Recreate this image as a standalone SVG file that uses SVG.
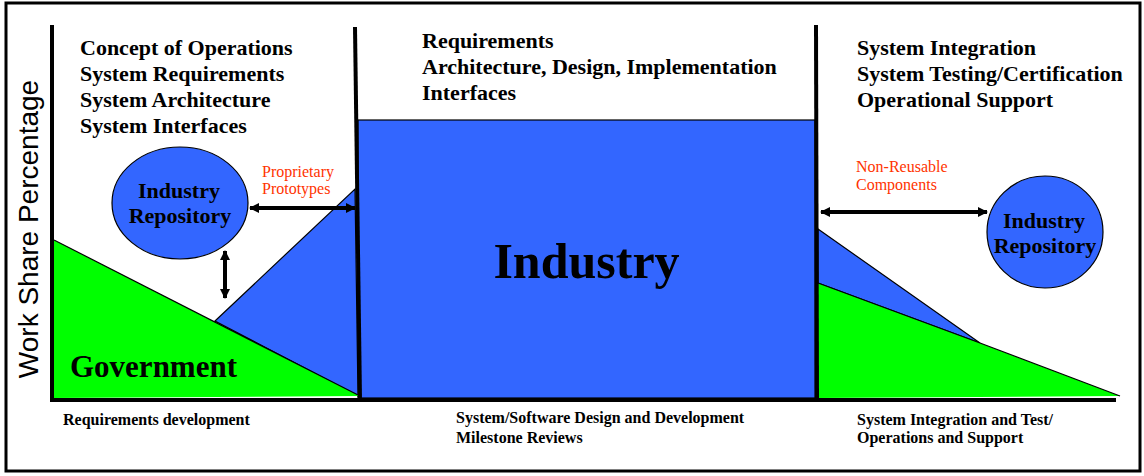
<svg xmlns="http://www.w3.org/2000/svg" width="1144" height="476" viewBox="0 0 1144 476">
<style>
.hd{font-family:"Liberation Serif","Times New Roman",serif;font-weight:bold;font-size:22px;fill:#000}
.ft{font-family:"Liberation Serif","Times New Roman",serif;font-weight:bold;font-size:16px;fill:#000}
.rd{font-family:"Liberation Serif","Times New Roman",serif;font-size:16px;fill:#ff3300}
.blue{fill:#3366ff;stroke:#000;stroke-width:1.2}
.green{fill:#00ff00;stroke:none}
.ax{stroke:#000;stroke-width:4;fill:none}
.arr{stroke:#000;stroke-width:4;fill:none;marker-start:url(#ah);marker-end:url(#ah)}
</style>
<defs>
<marker id="ah" viewBox="0 0 10 10" refX="9" refY="5" markerWidth="10" markerHeight="11" markerUnits="userSpaceOnUse" orient="auto-start-reverse">
<path d="M0,0 L10,5 L0,10 Z" fill="#000"/>
</marker>
</defs>
<rect x="0" y="0" width="1144" height="476" fill="#fff"/>
<rect x="6" y="3" width="1134" height="468" fill="none" stroke="#000" stroke-width="3"/>
<g id="axis-label">
<text transform="translate(38,229) rotate(-90)" text-anchor="middle" font-family="Liberation Sans,Arial,sans-serif" font-size="28" fill="#000">Work Share Percentage</text>
</g>
<g id="industry-area">
<rect class="blue" x="358" y="120" width="457" height="278"/>
<polygon class="blue" points="215,321 355,189 358,396"/>
<polygon class="blue" points="818,229 980,343 818,283"/>
<text x="586.5" y="278" text-anchor="middle" font-family="Liberation Serif,Times New Roman,serif" font-weight="bold" font-size="50" fill="#000">Industry</text>
</g>
<g id="government-area">
<polygon class="green" points="54,240 360,396 54,398"/>
<line x1="54" y1="240" x2="360" y2="396" stroke="#000" stroke-width="1.2"/>
<polygon class="green" points="818,283 980,343 1120,396 818,398"/>
<polyline points="818,283 980,343 1120,396" fill="none" stroke="#000" stroke-width="1.2"/>
<text x="70" y="377" font-family="Liberation Serif,Times New Roman,serif" font-weight="bold" font-size="31" fill="#000">Government</text>
</g>
<g id="axes">
<line class="ax" x1="52" y1="25" x2="52" y2="402"/>
<line class="ax" x1="50" y1="400" x2="1116" y2="400" stroke-width="5"/>
<line class="ax" x1="355" y1="27" x2="360" y2="400"/>
<line class="ax" x1="816" y1="25" x2="817" y2="400"/>
</g>
<g id="repo-left">
<ellipse class="blue" cx="180" cy="203" rx="68" ry="56" stroke-width="1.5"/>
<text class="hd" x="179" y="198" text-anchor="middle">Industry</text>
<text class="hd" x="180" y="223" text-anchor="middle">Repository</text>
</g>
<g id="repo-right">
<ellipse class="blue" cx="1045" cy="232" rx="58" ry="56" stroke-width="1.5"/>
<text class="hd" x="1044" y="228" text-anchor="middle">Industry</text>
<text class="hd" x="1045" y="253" text-anchor="middle">Repository</text>
</g>
<g id="connectors">
<line class="arr" x1="250" y1="208" x2="355" y2="208"/>
<line class="arr" x1="225" y1="251" x2="225" y2="298"/>
<line class="arr" x1="821" y1="212" x2="987" y2="212"/>
</g>
<g id="labels">
<text class="rd" x="262" y="177">Proprietary</text>
<text class="rd" x="262" y="194">Prototypes</text>
<text class="rd" x="856" y="172">Non-Reusable</text>
<text class="rd" x="856" y="190">Components</text>
</g>
<g id="phase-left">
<text class="hd" x="80" y="55">Concept of Operations</text>
<text class="hd" x="80" y="81">System Requirements</text>
<text class="hd" x="80" y="107">System Architecture</text>
<text class="hd" x="80" y="133">System Interfaces</text>
</g>
<g id="phase-mid">
<text class="hd" x="422" y="48">Requirements</text>
<text class="hd" x="422" y="74">Architecture, Design, Implementation</text>
<text class="hd" x="422" y="100">Interfaces</text>
</g>
<g id="phase-right">
<text class="hd" x="857" y="55">System Integration</text>
<text class="hd" x="857" y="81">System Testing/Certification</text>
<text class="hd" x="857" y="107">Operational Support</text>
</g>
<g id="bottom-labels">
<text class="ft" x="63" y="425">Requirements development</text>
<text class="ft" x="456" y="423">System/Software Design and Development</text>
<text class="ft" x="456" y="443">Milestone Reviews</text>
<text class="ft" x="857" y="425">System Integration and Test/</text>
<text class="ft" x="857" y="443">Operations and Support</text>
</g>
</svg>
